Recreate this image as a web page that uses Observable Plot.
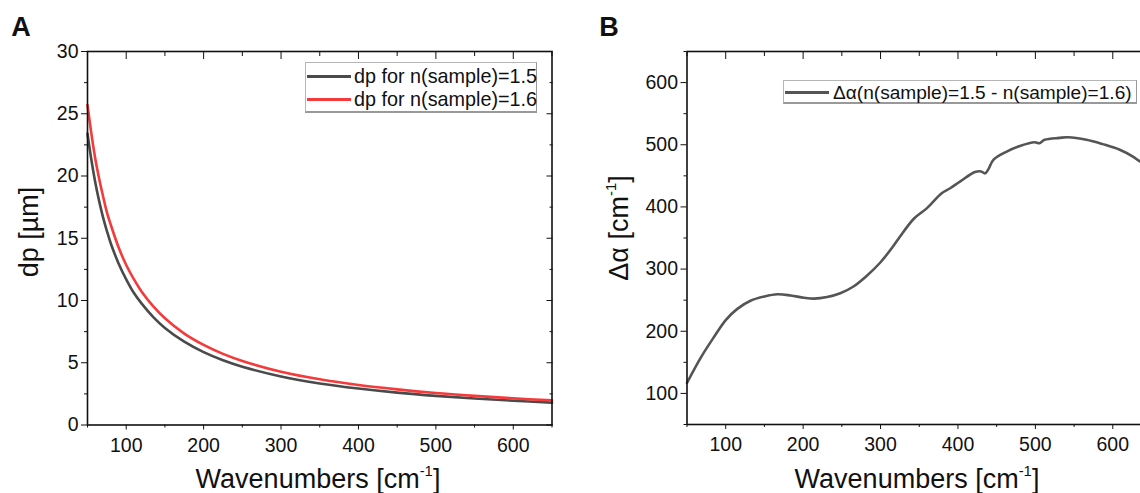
<!DOCTYPE html>
<html>
<head>
<meta charset="utf-8">
<script src="https://cdn.jsdelivr.net/npm/d3@7"></script>
<script src="https://cdn.jsdelivr.net/npm/@observablehq/plot@0.6"></script>
<style>
html, body { margin: 0; padding: 0; background: #fff; overflow: hidden; }
#root { position: relative; width: 1140px; height: 493px; overflow: hidden; font-family: "Liberation Sans", Arial, sans-serif; color: #111; background: #fff; }
.abs { position: absolute; white-space: nowrap; line-height: 1; }
.ctr { transform: translate(-50%, -50%); }
.rot { transform: translate(-50%, -50%) rotate(-90deg); }
.panel { position: absolute; top: 0; width: 570px; height: 493px; }
.panel svg { max-width: none !important; }
sup { font-size: 0.55em; vertical-align: 0.8em; line-height: 0; }
.lgbox { position: absolute; background: #fff; border: 1px solid #b5b5b5; border-bottom: 2px solid #999; border-right: 1px solid #999; box-sizing: border-box; }
.lgline { position: absolute; height: 3px; }
.lgtext { position: absolute; white-space: nowrap; line-height: 1; font-size: 19.8px; transform: translateY(-50%); }
</style>
</head>
<body>
<div id="root"></div>
<script>
// ---------- Data ----------
// Panel A: penetration depth dp [µm] vs wavenumber
const wavenumbersA = [50, 55, 60, 65, 70, 75, 80, 90, 100, 110, 120, 135, 150, 175, 200, 225, 250, 300, 350, 400, 450, 500, 550, 600, 650];
const dpN15 = [23.4, 21.3, 19.5, 18.0, 16.7, 15.6, 14.6, 13.0, 11.7, 10.6, 9.75, 8.67, 7.8, 6.69, 5.85, 5.2, 4.68, 3.9, 3.34, 2.93, 2.6, 2.34, 2.13, 1.95, 1.8];
const dpN16 = [25.7, 23.4, 21.4, 19.8, 18.4, 17.1, 16.1, 14.3, 12.85, 11.7, 10.7, 9.52, 8.57, 7.34, 6.43, 5.71, 5.14, 4.28, 3.67, 3.21, 2.86, 2.57, 2.34, 2.14, 1.98];
const seriesNamesA = ["dp for n(sample)=1.5", "dp for n(sample)=1.6"];

// Panel B: Δα vs wavenumber
const wavenumbersB = [50, 68, 85, 100, 115, 132, 150, 167, 184, 201, 214, 231, 248, 265, 282, 300, 317, 325, 343, 360, 379, 390, 403, 422, 430, 435, 439, 446, 463, 480, 499, 505, 512, 531, 542, 566, 587, 609, 626, 634, 645];
const deltaAlpha = [117, 158, 191, 218, 236, 249, 256, 259.5, 257.5, 254, 252.5, 255, 261, 272, 289, 311, 338, 352, 381, 398, 422, 430, 441, 456, 457, 454, 460, 476, 489, 498, 504, 502.5, 508, 511, 512, 508, 501, 492, 481, 474, 466];
const seriesNameB = "Δα(n(sample)=1.5 - n(sample)=1.6)";

// Ticks
const xMajorTicks = [100, 200, 300, 400, 500, 600];
const xMinorTicks = [50, 150, 250, 350, 450, 550, 650];
const yMajorTicksA = [0, 5, 10, 15, 20, 25, 30];
const yMinorTicksA = [2.5, 7.5, 12.5, 17.5, 22.5, 27.5];
const yMajorTicksB = [100, 200, 300, 400, 500, 600];
const yMinorTicksB = [50, 150, 250, 350, 450, 550, 650];

const GREY = "#4a4a4a";
const RED = "#f43a3a";

// ---------- Helpers ----------
const FONT = "Liberation Sans, Arial, sans-serif";
const blank = () => "";
function axesMarks(xMaj, xMin, yMaj, yMin) {
  return [
    Plot.axisX(xMaj, {anchor: "bottom", tickSize: 5, tickPadding: 8, label: null}),
    Plot.axisX(xMin, {anchor: "bottom", tickSize: 3, tickFormat: blank, label: null}),
    Plot.axisX(xMaj, {anchor: "top", tickSize: -7, tickFormat: blank, label: null}),
    Plot.axisX(xMin, {anchor: "top", tickSize: -4, tickFormat: blank, label: null}),
    Plot.axisY(yMaj, {anchor: "left", tickSize: 6, tickPadding: 3, label: null}),
    Plot.axisY(yMin, {anchor: "left", tickSize: 3, tickFormat: blank, label: null}),
    Plot.axisY(yMaj, {anchor: "right", tickSize: -6, tickFormat: blank, label: null}),
    Plot.axisY(yMin, {anchor: "right", tickSize: -3, tickFormat: blank, label: null}),
    Plot.frame({stroke: "#111", strokeWidth: 1.6})
  ];
}

const root = document.getElementById("root");
function addDiv(cls, html, style) {
  const d = document.createElement("div");
  d.className = cls;
  d.innerHTML = html;
  Object.assign(d.style, style);
  root.appendChild(d);
  return d;
}

// ---------- Panel A ----------
const dataA = [
  ...wavenumbersA.map((x, i) => ({x, y: dpN15[i], s: seriesNamesA[0]})),
  ...wavenumbersA.map((x, i) => ({x, y: dpN16[i], s: seriesNamesA[1]}))
];
const plotA = Plot.plot({
  width: 570, height: 493,
  marginLeft: 87, marginRight: 18.5, marginTop: 51, marginBottom: 68.5,
  x: {type: "linear", domain: [50, 650]},
  y: {type: "linear", domain: [0, 30]},
  style: {fontFamily: FONT, fontSize: "19.5px", color: "#111", background: "transparent", maxWidth: "none"},
  marks: [
    Plot.line(dataA.filter(d => d.s === seriesNamesA[0]), {x: "x", y: "y", stroke: GREY, strokeWidth: 2.6, curve: "catmull-rom"}),
    Plot.line(dataA.filter(d => d.s === seriesNamesA[1]), {x: "x", y: "y", stroke: RED, strokeWidth: 2.6, curve: "catmull-rom"}),
    ...axesMarks(xMajorTicks, xMinorTicks, yMajorTicksA, yMinorTicksA)
  ]
});
const wrapA = document.createElement("div");
wrapA.className = "panel";
wrapA.style.left = "0px";
wrapA.appendChild(plotA);
root.appendChild(wrapA);

// ---------- Panel B ----------
const dataB = wavenumbersB.map((x, i) => ({x, y: deltaAlpha[i]}));
const plotB = Plot.plot({
  width: 570, height: 493,
  marginLeft: 86.5, marginRight: 19, marginTop: 51, marginBottom: 69,
  x: {type: "linear", domain: [50, 650]},
  y: {type: "linear", domain: [50, 650]},
  style: {fontFamily: FONT, fontSize: "19.5px", color: "#111", background: "transparent", maxWidth: "none"},
  marks: [
    Plot.line(dataB, {x: "x", y: "y", stroke: "#555", strokeWidth: 2.6, curve: "catmull-rom"}),
    ...axesMarks(xMajorTicks, xMinorTicks, yMajorTicksB, yMinorTicksB)
  ]
});
const wrapB = document.createElement("div");
wrapB.className = "panel";
wrapB.style.left = "600px";
wrapB.appendChild(plotB);
root.appendChild(wrapB);

// ---------- Text overlays ----------
addDiv("abs ctr", "A", {left: "21px", top: "27px", fontSize: "27px", fontWeight: "bold"});
addDiv("abs ctr", "B", {left: "609px", top: "27px", fontSize: "27px", fontWeight: "bold"});
addDiv("abs rot", "dp [µm]", {left: "29px", top: "232px", fontSize: "27px"});
addDiv("abs ctr", "Wavenumbers [cm<sup>-1</sup>]", {left: "318px", top: "479px", fontSize: "27px"});
addDiv("abs rot", "Δα [cm<sup>-1</sup>]", {left: "619px", top: "228px", fontSize: "27px"});
addDiv("abs ctr", "Wavenumbers [cm<sup>-1</sup>]", {left: "917px", top: "479px", fontSize: "27px"});

// Legend A
addDiv("lgbox", "", {left: "305px", top: "62px", width: "232px", height: "51px"});
addDiv("lgline", "", {left: "307px", top: "75px", width: "44px", background: GREY});
addDiv("lgline", "", {left: "307px", top: "98px", width: "44px", background: RED});
addDiv("lgtext", seriesNamesA[0], {left: "354px", top: "76.5px"});
addDiv("lgtext", seriesNamesA[1], {left: "354px", top: "99.5px"});

// Legend B
addDiv("lgbox", "", {left: "783px", top: "80px", width: "354px", height: "24px"});
addDiv("lgline", "", {left: "785px", top: "91px", width: "44px", background: "#555"});
addDiv("lgtext", seriesNameB, {left: "833px", top: "92.5px", fontSize: "19.1px"});
</script>
</body>
</html>
